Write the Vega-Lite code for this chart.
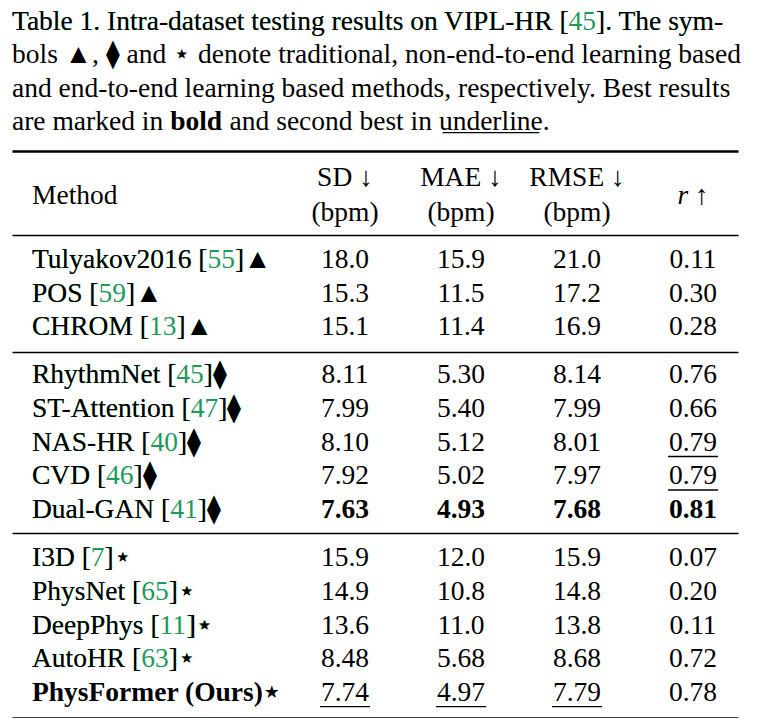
{
  "$schema": "https://vega.github.io/schema/vega-lite/v6.json",
  "background": "white",
  "padding": {"left": 12, "top": 0, "right": 0, "bottom": 0},
  "bounds": "flush",
  "spacing": 0,
  "config": {
    "view": {"stroke": null},
    "text": {"font": "Liberation Serif", "fontSize": 27.5, "color": "#000000"},
    "axis": {"ticks": false, "labels": false, "grid": false, "domainColor": "#000000"}
  },
  "datasets": {
    "caption": [
      {"line": 1, "text": "Table 1. Intra-dataset testing results on VIPL-HR [45]. The sym-"},
      {"line": 2, "text": "bols ▲, ⧫ and ⋆ denote traditional, non-end-to-end learning based"},
      {"line": 3, "text": "and end-to-end learning based methods, respectively. Best results"},
      {"line": 4, "text": "are marked in bold and second best in underline."}
    ],
    "header": [
      {"col": "Method", "line": "mid", "text": "Method"},
      {"col": "SD", "line": "top", "text": "SD ↓"},
      {"col": "SD", "line": "bottom", "text": "(bpm)"},
      {"col": "MAE", "line": "top", "text": "MAE ↓"},
      {"col": "MAE", "line": "bottom", "text": "(bpm)"},
      {"col": "RMSE", "line": "top", "text": "RMSE ↓"},
      {"col": "RMSE", "line": "bottom", "text": "(bpm)"},
      {"col": "r", "line": "mid", "text": "r ↑"}
    ],
    "methods": [
      {"method": "Tulyakov2016", "ref": "55", "kind": "traditional", "SD": 18.0, "MAE": 15.9, "RMSE": 21.0, "r": 0.11},
      {"method": "POS", "ref": "59", "kind": "traditional", "SD": 15.3, "MAE": 11.5, "RMSE": 17.2, "r": 0.30},
      {"method": "CHROM", "ref": "13", "kind": "traditional", "SD": 15.1, "MAE": 11.4, "RMSE": 16.9, "r": 0.28},
      {"method": "RhythmNet", "ref": "45", "kind": "non-end-to-end", "SD": 8.11, "MAE": 5.30, "RMSE": 8.14, "r": 0.76},
      {"method": "ST-Attention", "ref": "47", "kind": "non-end-to-end", "SD": 7.99, "MAE": 5.40, "RMSE": 7.99, "r": 0.66},
      {"method": "NAS-HR", "ref": "40", "kind": "non-end-to-end", "SD": 8.10, "MAE": 5.12, "RMSE": 8.01, "r": 0.79},
      {"method": "CVD", "ref": "46", "kind": "non-end-to-end", "SD": 7.92, "MAE": 5.02, "RMSE": 7.97, "r": 0.79},
      {"method": "Dual-GAN", "ref": "41", "kind": "non-end-to-end", "SD": 7.63, "MAE": 4.93, "RMSE": 7.68, "r": 0.81},
      {"method": "I3D", "ref": "7", "kind": "end-to-end", "SD": 15.9, "MAE": 12.0, "RMSE": 15.9, "r": 0.07},
      {"method": "PhysNet", "ref": "65", "kind": "end-to-end", "SD": 14.9, "MAE": 10.8, "RMSE": 14.8, "r": 0.20},
      {"method": "DeepPhys", "ref": "11", "kind": "end-to-end", "SD": 13.6, "MAE": 11.0, "RMSE": 13.8, "r": 0.11},
      {"method": "AutoHR", "ref": "63", "kind": "end-to-end", "SD": 8.48, "MAE": 5.68, "RMSE": 8.68, "r": 0.72},
      {"method": "PhysFormer (Ours)", "ref": "", "kind": "end-to-end", "ours": true, "SD": 7.74, "MAE": 4.97, "RMSE": 7.79, "r": 0.78}
    ]
  },
  "vconcat": [
    {
      "width": 726, "height": 151,
      "data": {"name": "caption"},
      "transform": [
        {"calculate": "datum.line == 1 ? replace(datum.text, '45', '\u2002\u2002') : (datum.line == 4 ? replace(datum.text, 'bold', '\u2003\u2002\u2005\u2006') : datum.text)", "as": "plain"},
        {"calculate": "'c'", "as": "pos"}
      ],
      "encoding": {
        "x": {"field": "pos", "type": "nominal", "scale": {"type": "point", "domain": ["c"], "padding": 0, "align": 0}, "axis": null},
        "y": {"field": "line", "type": "ordinal", "scale": {"type": "point", "domain": [1, 2, 3, 4], "padding": 0.765, "align": 0.588}, "axis": null}
      },
      "layer": [
        {
          "transform": [{"filter": "datum.line == 1"}],
          "mark": {"type": "text", "align": "left", "baseline": "alphabetic", "color": "#1e9a5b", "font": "Liberation Serif", "fontSize": 27.5},
          "encoding": {"text": {"field": "text"}}
        },
        {
          "mark": {"type": "text", "align": "left", "baseline": "alphabetic", "font": "Liberation Serif", "fontSize": 27.5},
          "encoding": {"text": {"field": "plain"}}
        },
        {
          "transform": [{"filter": "datum.line == 4"}, {"calculate": "'\u200B' + pad('', 5, '\u2003') + pad('', 3, '\u2005') + 'bold' + pad('', 11, '\u2003') + '\u2002\u2005\u2006' + '\u200B'", "as": "b"}],
          "mark": {"type": "text", "align": "left", "baseline": "alphabetic", "fontWeight": "bold", "font": "Liberation Serif", "fontSize": 27.5},
          "encoding": {"text": {"field": "b"}}
        },
        {
          "transform": [{"filter": "datum.line == 4"}, {"calculate": "'\u200B' + pad('', 15, '\u2003') + '\u2002\u2006' + '_______' + '\u2005\u2006' + '\u200B'", "as": "u"}],
          "mark": {"type": "text", "align": "left", "baseline": "alphabetic", "font": "Liberation Serif", "fontSize": 27.5},
          "encoding": {"text": {"field": "u"}}
        }
      ]
    },
    {
      "width": 726, "height": 84,
      "data": {"name": "header"},
      "resolve": {"axis": {"x": "independent"}},
      "encoding": {
        "x": {"field": "col", "type": "nominal", "scale": {"type": "point", "domain": ["_pad", "Method", "SD", "MAE", "RMSE", "r"], "padding": 0.629, "align": 0.692}, "axis": null},
        "y": {"field": "line", "type": "nominal", "scale": {"type": "point", "domain": ["_a", "top", "mid", "bottom", "_b"], "padding": 0.4, "align": 0.68}, "axis": null}
      },
      "layer": [
        {
          "transform": [{"filter": "datum.col == 'Method'"}],
          "mark": {"type": "text", "align": "left", "baseline": "middle", "dx": -197, "font": "Liberation Serif", "fontSize": 27.5},
          "encoding": {
            "x": {"field": "col", "type": "nominal", "scale": {"type": "point", "domain": ["_pad", "Method", "SD", "MAE", "RMSE", "r"], "padding": 0.629, "align": 0.692}, "axis": {"orient": "top", "domainWidth": 2.6, "title": null}},
            "text": {"field": "text"}
          }
        },
        {
          "transform": [{"filter": "datum.col != 'Method' && datum.col != 'r'"}],
          "mark": {"type": "text", "align": "center", "baseline": "middle", "font": "Liberation Serif", "fontSize": 27.5},
          "encoding": {"text": {"field": "text"}}
        },
        {
          "transform": [{"filter": "datum.col == 'r'"}],
          "mark": {"type": "text", "align": "center", "baseline": "middle", "fontStyle": "italic", "font": "Liberation Serif", "fontSize": 27.5},
          "encoding": {"text": {"field": "text"}}
        }
      ]
    },
    {
      "width": 726, "height": 117,
      "data": {"name": "methods"},
      "transform": [
        {"calculate": "datum.kind == 'traditional' ? '▲' : (datum.kind == 'non-end-to-end' ? '⧫' : '⋆')", "as": "mk"},
        {"calculate": "datum.ref != '' ? datum.method + ' [' + datum.ref + ']' + datum.mk : datum.method + datum.mk", "as": "full"},
        {"calculate": "datum.ref != '' ? datum.method + ' [' + pad('', length(datum.ref), '\u2002') + ']' + datum.mk : datum.method + datum.mk", "as": "masked"},
        {"fold": ["SD", "MAE", "RMSE", "r"], "as": ["col", "value"]},
        {"calculate": "datum.col == 'r' ? -datum.value : datum.value", "as": "score"},
        {"window": [{"op": "dense_rank", "as": "rank"}], "groupby": ["col"], "sort": [{"field": "score", "order": "ascending"}]},
        {"calculate": "datum.col == 'r' ? format(datum.value, '.2f') : format(datum.value, '.3r')", "as": "label"},
        {"filter": "datum.kind == 'traditional'"}
      ],
      "resolve": {"axis": {"x": "independent"}},
      "encoding": {
        "y": {"field": "method", "type": "nominal", "scale": {"type": "point", "domain": ["Tulyakov2016", "POS", "CHROM"], "padding": 0.746}, "axis": null}
      },
      "layer": [
        {
          "transform": [{"filter": "datum.col == 'SD' && datum.ref != ''"}],
          "mark": {"type": "text", "align": "left", "baseline": "middle", "color": "#1e9a5b", "dx": -197, "font": "Liberation Serif", "fontSize": 27.5},
          "encoding": {
            "x": {"datum": "Method", "type": "nominal", "scale": {"type": "point", "domain": ["_pad", "Method", "SD", "MAE", "RMSE", "r"], "padding": 0.629, "align": 0.692}, "axis": {"orient": "top", "domainWidth": 1.3, "title": null}},
            "text": {"field": "full"}
          }
        },
        {
          "transform": [{"filter": "datum.col == 'SD' && !datum.ours"}],
          "mark": {"type": "text", "align": "left", "baseline": "middle", "dx": -197, "font": "Liberation Serif", "fontSize": 27.5},
          "encoding": {
            "x": {"datum": "Method", "type": "nominal", "scale": {"type": "point", "domain": ["_pad", "Method", "SD", "MAE", "RMSE", "r"], "padding": 0.629, "align": 0.692}, "axis": null},
            "text": {"field": "masked"}
          }
        },
        {
          "transform": [{"filter": "datum.rank != 1"}],
          "mark": {"type": "text", "align": "center", "baseline": "middle", "font": "Liberation Serif", "fontSize": 27.5},
          "encoding": {
            "x": {"field": "col", "type": "nominal", "scale": {"type": "point", "domain": ["_pad", "Method", "SD", "MAE", "RMSE", "r"], "padding": 0.629, "align": 0.692}, "axis": null},
            "text": {"field": "label"}
          }
        }
      ]
    },
    {
      "width": 726, "height": 181,
      "data": {"name": "methods"},
      "transform": [
        {"calculate": "datum.kind == 'traditional' ? '▲' : (datum.kind == 'non-end-to-end' ? '⧫' : '⋆')", "as": "mk"},
        {"calculate": "datum.ref != '' ? datum.method + ' [' + datum.ref + ']' + datum.mk : datum.method + datum.mk", "as": "full"},
        {"calculate": "datum.ref != '' ? datum.method + ' [' + pad('', length(datum.ref), '\u2002') + ']' + datum.mk : datum.method + datum.mk", "as": "masked"},
        {"fold": ["SD", "MAE", "RMSE", "r"], "as": ["col", "value"]},
        {"calculate": "datum.col == 'r' ? -datum.value : datum.value", "as": "score"},
        {"window": [{"op": "dense_rank", "as": "rank"}], "groupby": ["col"], "sort": [{"field": "score", "order": "ascending"}]},
        {"calculate": "datum.col == 'r' ? format(datum.value, '.2f') : format(datum.value, '.3r')", "as": "label"},
        {"filter": "datum.kind == 'non-end-to-end'"}
      ],
      "resolve": {"axis": {"x": "independent"}},
      "encoding": {
        "y": {"field": "method", "type": "nominal", "scale": {"type": "point", "domain": ["RhythmNet", "ST-Attention", "NAS-HR", "CVD", "Dual-GAN"], "padding": 0.7}, "axis": null}
      },
      "layer": [
        {
          "transform": [{"filter": "datum.col == 'SD' && datum.ref != ''"}],
          "mark": {"type": "text", "align": "left", "baseline": "middle", "color": "#1e9a5b", "dx": -197, "font": "Liberation Serif", "fontSize": 27.5},
          "encoding": {
            "x": {"datum": "Method", "type": "nominal", "scale": {"type": "point", "domain": ["_pad", "Method", "SD", "MAE", "RMSE", "r"], "padding": 0.629, "align": 0.692}, "axis": {"orient": "top", "domainWidth": 1.3, "title": null}},
            "text": {"field": "full"}
          }
        },
        {
          "transform": [{"filter": "datum.col == 'SD' && !datum.ours"}],
          "mark": {"type": "text", "align": "left", "baseline": "middle", "dx": -197, "font": "Liberation Serif", "fontSize": 27.5},
          "encoding": {
            "x": {"datum": "Method", "type": "nominal", "scale": {"type": "point", "domain": ["_pad", "Method", "SD", "MAE", "RMSE", "r"], "padding": 0.629, "align": 0.692}, "axis": null},
            "text": {"field": "masked"}
          }
        },
        {
          "transform": [{"filter": "datum.rank != 1"}],
          "mark": {"type": "text", "align": "center", "baseline": "middle", "font": "Liberation Serif", "fontSize": 27.5},
          "encoding": {
            "x": {"field": "col", "type": "nominal", "scale": {"type": "point", "domain": ["_pad", "Method", "SD", "MAE", "RMSE", "r"], "padding": 0.629, "align": 0.692}, "axis": null},
            "text": {"field": "label"}
          }
        },
        {
          "transform": [{"filter": "datum.rank == 1"}],
          "mark": {"type": "text", "align": "center", "baseline": "middle", "fontWeight": "bold", "font": "Liberation Serif", "fontSize": 27.5},
          "encoding": {
            "x": {"field": "col", "type": "nominal", "scale": {"type": "point", "domain": ["_pad", "Method", "SD", "MAE", "RMSE", "r"], "padding": 0.629, "align": 0.692}, "axis": null},
            "text": {"field": "label"}
          }
        },
        {
          "transform": [{"filter": "datum.rank == 2"}],
          "mark": {"type": "rule", "xOffset": -25, "x2Offset": 25, "yOffset": 14, "strokeWidth": 1.3, "color": "#000000"},
          "encoding": {
            "x": {"field": "col", "type": "nominal", "scale": {"type": "point", "domain": ["_pad", "Method", "SD", "MAE", "RMSE", "r"], "padding": 0.629, "align": 0.692}, "axis": null},
            "x2": {"field": "col"}
          }
        }
      ]
    },
    {
      "width": 726, "height": 185,
      "data": {"name": "methods"},
      "transform": [
        {"calculate": "datum.kind == 'traditional' ? '▲' : (datum.kind == 'non-end-to-end' ? '⧫' : '⋆')", "as": "mk"},
        {"calculate": "datum.ref != '' ? datum.method + ' [' + datum.ref + ']' + datum.mk : datum.method + datum.mk", "as": "full"},
        {"calculate": "datum.ref != '' ? datum.method + ' [' + pad('', length(datum.ref), '\u2002') + ']' + datum.mk : datum.method + datum.mk", "as": "masked"},
        {"fold": ["SD", "MAE", "RMSE", "r"], "as": ["col", "value"]},
        {"calculate": "datum.col == 'r' ? -datum.value : datum.value", "as": "score"},
        {"window": [{"op": "dense_rank", "as": "rank"}], "groupby": ["col"], "sort": [{"field": "score", "order": "ascending"}]},
        {"calculate": "datum.col == 'r' ? format(datum.value, '.2f') : format(datum.value, '.3r')", "as": "label"},
        {"filter": "datum.kind == 'end-to-end'"}
      ],
      "resolve": {"axis": {"x": "independent"}},
      "encoding": {
        "y": {"field": "method", "type": "nominal", "scale": {"type": "point", "domain": ["I3D", "PhysNet", "DeepPhys", "AutoHR", "PhysFormer (Ours)"], "padding": 0.76}, "axis": null}
      },
      "layer": [
        {
          "transform": [{"filter": "datum.col == 'SD' && datum.ref != ''"}],
          "mark": {"type": "text", "align": "left", "baseline": "middle", "color": "#1e9a5b", "dx": -197, "font": "Liberation Serif", "fontSize": 27.5},
          "encoding": {
            "x": {"datum": "Method", "type": "nominal", "scale": {"type": "point", "domain": ["_pad", "Method", "SD", "MAE", "RMSE", "r"], "padding": 0.629, "align": 0.692}, "axis": {"orient": "bottom", "domainWidth": 2.6, "title": null}},
            "text": {"field": "full"}
          }
        },
        {
          "transform": [{"filter": "datum.col == 'SD' && !datum.ours"}],
          "mark": {"type": "text", "align": "left", "baseline": "middle", "dx": -197, "font": "Liberation Serif", "fontSize": 27.5},
          "encoding": {
            "x": {"datum": "Method", "type": "nominal", "scale": {"type": "point", "domain": ["_pad", "Method", "SD", "MAE", "RMSE", "r"], "padding": 0.629, "align": 0.692}, "axis": null},
            "text": {"field": "masked"}
          }
        },
        {
          "transform": [{"filter": "datum.col == 'SD' && datum.ours"}],
          "mark": {"type": "text", "align": "left", "baseline": "middle", "fontWeight": "bold", "dx": -197, "font": "Liberation Serif", "fontSize": 27.5},
          "encoding": {
            "x": {"datum": "Method", "type": "nominal", "scale": {"type": "point", "domain": ["_pad", "Method", "SD", "MAE", "RMSE", "r"], "padding": 0.629, "align": 0.692}, "axis": null},
            "text": {"field": "full"}
          }
        },
        {
          "transform": [{"filter": "datum.rank != 1"}],
          "mark": {"type": "text", "align": "center", "baseline": "middle", "font": "Liberation Serif", "fontSize": 27.5},
          "encoding": {
            "x": {"field": "col", "type": "nominal", "scale": {"type": "point", "domain": ["_pad", "Method", "SD", "MAE", "RMSE", "r"], "padding": 0.629, "align": 0.692}, "axis": {"orient": "top", "domainWidth": 1.3, "title": null}},
            "text": {"field": "label"}
          }
        },
        {
          "transform": [{"filter": "datum.rank == 2"}],
          "mark": {"type": "rule", "xOffset": -25, "x2Offset": 25, "yOffset": 14, "strokeWidth": 1.3, "color": "#000000"},
          "encoding": {
            "x": {"field": "col", "type": "nominal", "scale": {"type": "point", "domain": ["_pad", "Method", "SD", "MAE", "RMSE", "r"], "padding": 0.629, "align": 0.692}, "axis": null},
            "x2": {"field": "col"}
          }
        }
      ]
    }
  ]
}
